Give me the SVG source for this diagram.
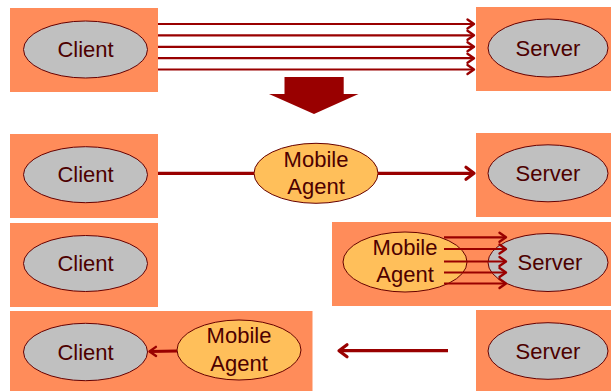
<svg xmlns="http://www.w3.org/2000/svg" width="611" height="391" viewBox="0 0 611 391">
<style>
.box{fill:#FF8C5A}
.host{fill:#C0C0C0;stroke:#660000;stroke-width:1}
.agent{fill:#FFBF5A;stroke:#660000;stroke-width:1}
.t{font-family:"Liberation Sans",Arial,sans-serif;font-size:22px;fill:#4D0000;text-anchor:middle;dominant-baseline:central}
.c{stroke:#990000;fill:none}
.w2{stroke-width:2.2}
.w3{stroke-width:3.2}
</style>
<defs>
<marker id="ah" viewBox="-10 -6 12 12" refX="0" refY="0" markerWidth="12" markerHeight="12" markerUnits="userSpaceOnUse" orient="auto" overflow="visible">
<path d="M-6.5,-4.5 L0,0 L-6.5,4.5" fill="none" stroke="#990000" stroke-width="2.4" stroke-linecap="round" stroke-linejoin="round"/>
</marker>
<marker id="ahb" viewBox="-12 -8 14 16" refX="0" refY="0" markerWidth="14" markerHeight="16" markerUnits="userSpaceOnUse" orient="auto" overflow="visible">
<path d="M-8,-6 L0,0 L-8,6" fill="none" stroke="#990000" stroke-width="3.2" stroke-linecap="round" stroke-linejoin="round"/>
</marker>
</defs>

<g id="row1-client"><rect class="box" x="10" y="8" width="148" height="84"/><ellipse class="host" cx="85.5" cy="49.5" rx="62" ry="28.5"/><text class="t" x="85.5" y="49.5">Client</text></g>
<g id="row1-server"><rect class="box" x="476" y="7" width="135" height="84"/><ellipse class="host" cx="548" cy="48" rx="60" ry="29"/><text class="t" x="548" y="48">Server</text></g>

<g id="row2-client"><rect class="box" x="10" y="134" width="148" height="84"/><ellipse class="host" cx="85.5" cy="174.7" rx="62" ry="28"/><text class="t" x="85.5" y="174.7">Client</text></g>
<g id="row2-agent"><ellipse class="agent" cx="316" cy="173.3" rx="62" ry="30"/><text class="t" x="316" y="159">Mobile</text><text class="t" x="316" y="186.5">Agent</text></g>
<g id="row2-server"><rect class="box" x="476" y="133" width="135" height="84"/><ellipse class="host" cx="548" cy="173.3" rx="60" ry="28.5"/><text class="t" x="548" y="173.3">Server</text></g>

<g id="row3-client"><rect class="box" x="10" y="223" width="148" height="84"/><ellipse class="host" cx="85.5" cy="263.5" rx="62" ry="28"/><text class="t" x="85.5" y="263.5">Client</text></g>
<g id="row3-host"><rect class="box" x="332" y="222" width="279" height="84"/></g>
<g id="row3-server"><ellipse class="host" cx="548" cy="262.5" rx="60" ry="29"/><text class="t" x="550" y="262.5">Server</text></g>
<g id="row3-agent"><ellipse class="agent" cx="405" cy="262" rx="62" ry="30"/><text class="t" x="405" y="247.5">Mobile</text><text class="t" x="405" y="274.5">Agent</text></g>

<g id="row4-clienthost"><rect class="box" x="10" y="311" width="302.5" height="80"/></g>
<g id="row4-client"><ellipse class="host" cx="85.5" cy="352" rx="62" ry="28.7"/><text class="t" x="85.5" y="352">Client</text></g>
<g id="row4-agent"><ellipse class="agent" cx="239" cy="350" rx="62" ry="30"/><text class="t" x="239" y="335.5">Mobile</text><text class="t" x="239" y="363">Agent</text></g>
<g id="row4-server"><rect class="box" x="476" y="310" width="135" height="81"/><ellipse class="host" cx="548" cy="351" rx="60" ry="28.3"/><text class="t" x="548" y="351">Server</text></g>

<g id="transition"><polygon points="284.5,77 343.7,77 343.7,94 358.5,94 314,114 269,94 284.5,94" fill="#990000"/></g>

<g id="connectors">
<line class="c w2" x1="158" y1="24" x2="474" y2="24" marker-end="url(#ah)"/>
<line class="c w2" x1="158" y1="35.3" x2="474" y2="35.3" marker-end="url(#ah)"/>
<line class="c w2" x1="158" y1="46.8" x2="474" y2="46.8" marker-end="url(#ah)"/>
<line class="c w2" x1="158" y1="58.2" x2="474" y2="58.2" marker-end="url(#ah)"/>
<line class="c w2" x1="158" y1="69.5" x2="474" y2="69.5" marker-end="url(#ah)"/>

<line class="c w3" x1="158" y1="173.3" x2="254" y2="173.3"/>
<line class="c w3" x1="378" y1="173.3" x2="474" y2="173.3" marker-end="url(#ahb)"/>

<line class="c w2" x1="444" y1="237.3" x2="506" y2="237.3" marker-end="url(#ah)"/>
<line class="c w2" x1="444" y1="249" x2="506" y2="249" marker-end="url(#ah)"/>
<line class="c w2" x1="444" y1="261.5" x2="506" y2="261.5" marker-end="url(#ah)"/>
<line class="c w2" x1="444" y1="272.5" x2="506" y2="272.5" marker-end="url(#ah)"/>
<line class="c w2" x1="444" y1="283.5" x2="506" y2="283.5" marker-end="url(#ah)"/>

<line class="c w3" x1="177" y1="351" x2="149.5" y2="351.5" marker-end="url(#ah)"/>
<line class="c w3" x1="448" y1="350.7" x2="339" y2="350.7" marker-end="url(#ahb)"/>
</g>
</svg>
